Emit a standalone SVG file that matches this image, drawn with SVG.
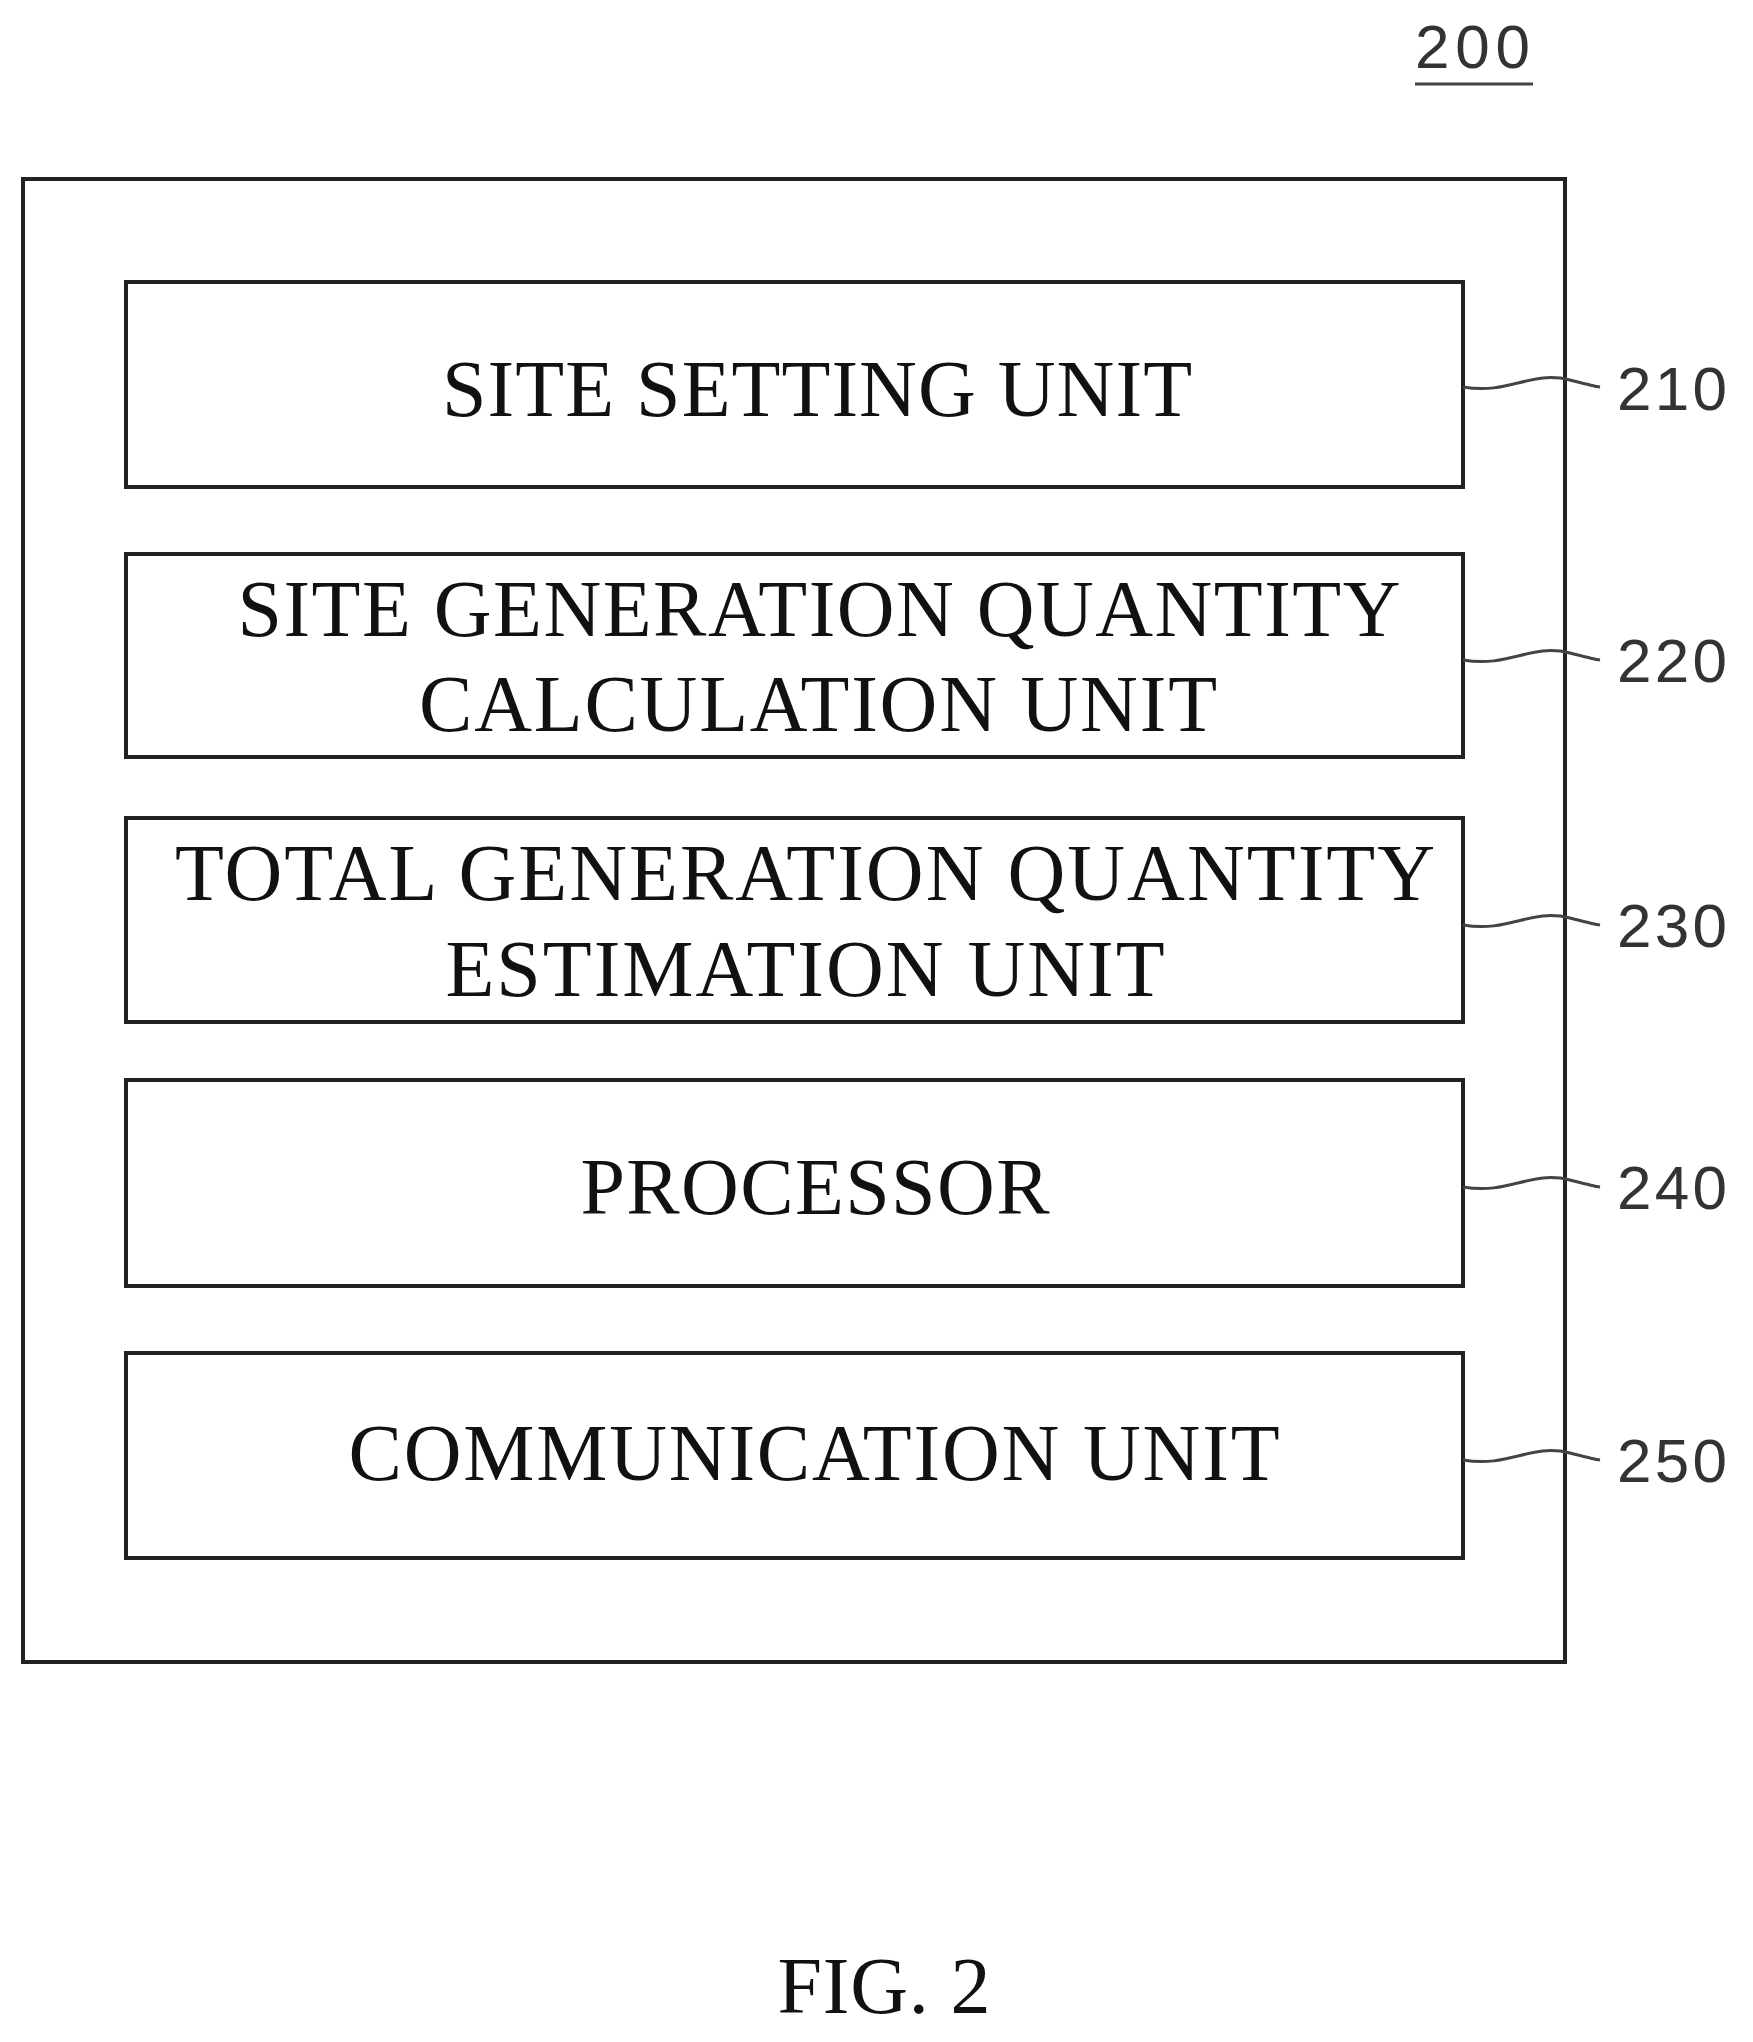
<svg xmlns="http://www.w3.org/2000/svg" width="1753" height="2042" viewBox="0 0 1753 2042">
<style>
.b{fill:#fff;stroke:#222;stroke-width:4}
.t{font-family:"Liberation Serif",serif;font-size:80px;fill:#111;text-anchor:middle}
.n{font-family:"Liberation Sans",sans-serif;font-size:62px;fill:#333}
.l{fill:none;stroke:#444;stroke-width:3}
</style>
<rect width="1753" height="2042" fill="#fff"/>
<text class="n" x="1415" y="68" textLength="115">200</text>
<line x1="1415" y1="84" x2="1533" y2="84" stroke="#444" stroke-width="3"/>
<rect class="b" x="23" y="179" width="1542" height="1483"/>
<g id="n210"><rect class="b" x="126" y="282" width="1337" height="205"/><text class="t" x="817" y="416" textLength="750">SITE SETTING UNIT</text></g>
<g id="n220"><rect class="b" x="126" y="554" width="1337" height="203"/><text class="t" x="819" y="636" textLength="1163">SITE GENERATION QUANTITY</text><text class="t" x="818" y="731" textLength="798">CALCULATION UNIT</text></g>
<g id="n230"><rect class="b" x="126" y="818" width="1337" height="204"/><text class="t" x="805" y="900" textLength="1260">TOTAL GENERATION QUANTITY</text><text class="t" x="805" y="996" textLength="719">ESTIMATION UNIT</text></g>
<g id="n240"><rect class="b" x="126" y="1080" width="1337" height="206"/><text class="t" x="815" y="1214" textLength="469">PROCESSOR</text></g>
<g id="n250"><rect class="b" x="126" y="1353" width="1337" height="205"/><text class="t" x="814" y="1480" textLength="931">COMMUNICATION UNIT</text></g>
<g id="connectors">
<path class="l" d="M1463 387 C1510 395 1530 370 1570 380 S1590 385 1600 387"/>
<path class="l" d="M1463 660 C1510 668 1530 643 1570 653 S1590 658 1600 660"/>
<path class="l" d="M1463 925 C1510 933 1530 908 1570 918 S1590 923 1600 925"/>
<path class="l" d="M1463 1187 C1510 1195 1530 1170 1570 1180 S1590 1185 1600 1187"/>
<path class="l" d="M1463 1460 C1510 1468 1530 1443 1570 1453 S1590 1458 1600 1460"/>
</g>
<text class="n" x="1617" y="410" textLength="110">210</text>
<text class="n" x="1617" y="682" textLength="110">220</text>
<text class="n" x="1617" y="947" textLength="110">230</text>
<text class="n" x="1617" y="1209" textLength="110">240</text>
<text class="n" x="1617" y="1482" textLength="110">250</text>
<text class="t" x="884" y="2013" font-size="80" textLength="213">FIG. 2</text>
</svg>
